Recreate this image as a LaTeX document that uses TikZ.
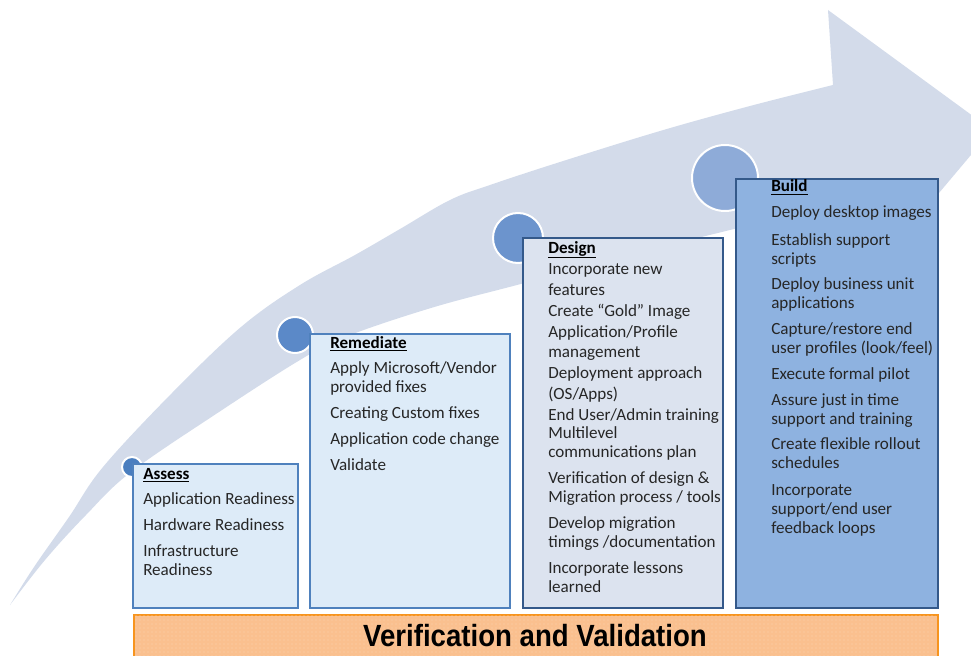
\documentclass[tikz,border=0pt]{standalone}
\usepackage{fontspec}
\setmainfont{Carlito}
\newfontfamily\barfont{Liberation Sans}
\usetikzlibrary{patterns}

\definecolor{arrowfill}{HTML}{D3DBEA}
\definecolor{dotA}{HTML}{4A7EBF}
\definecolor{dotB}{HTML}{5B89C8}
\definecolor{dotC}{HTML}{6C94CD}
\definecolor{dotD}{HTML}{8EABD8}
\definecolor{paleblue}{HTML}{DDEBF8}
\definecolor{paleedge}{HTML}{4F81BD}
\definecolor{greyblue}{HTML}{DCE3EF}
\definecolor{darkedge}{HTML}{34598A}
\definecolor{midblue}{HTML}{8EB2E0}
\definecolor{barfill}{HTML}{FAC08F}
\definecolor{baredge}{HTML}{F7941E}
\definecolor{bardots}{HTML}{FCD3AE}
\definecolor{bodytext}{HTML}{262626}

\tikzset{
  milestone/.style={circle, draw=white, line width=1.5pt, inner sep=0pt},
  phasebox/.style={rectangle, line width=1.6pt, anchor=north west, inner sep=0pt},
  lightbox/.style={phasebox, fill=paleblue, draw=paleedge},
  greybox/.style={phasebox, fill=greyblue, draw=darkedge},
  bluebox/.style={phasebox, fill=midblue, draw=darkedge},
  item/.style={anchor=base west, inner sep=0pt, text=bodytext,
    font=\fontsize{12.8}{14}\selectfont},
  heading/.style={item, text=black},
}

\begin{document}
\begin{tikzpicture}[x=0.75pt, y=-0.75pt]
\useasboundingbox (0,0) rectangle (971,656);
\clip (0,0) rectangle (971,656);

% sweeping arrow in the background
\fill[arrowfill]
  plot[smooth, tension=0.6] coordinates {(10,605) (34,567) (69,517) (103,467)
    (172,393) (241,327) (300,285) (355,255) (400,229) (450,200) (490,185)
    (560,162) (660,131) (750,106) (833,85)}
  -- (828,10) -- (992,130) -- (843,307) -- (838,205)
  -- plot[smooth, tension=0.6] coordinates {(838,205) (730,230) (620,258)
    (517,285) (431,308) (345,337) (300,360) (219,412) (131,472) (86,515)
    (45,560) (10,605)}
  -- cycle;

% milestones along the arrow
\node[milestone, fill=dotA, minimum size=15pt]   (m1) at (132,467) {};
\node[milestone, fill=dotB, minimum size=27pt]   (m2) at (295,335) {};
\node[milestone, fill=dotC, minimum size=37.5pt] (m3) at (518,238) {};
\node[milestone, fill=dotD, minimum size=49.5pt] (m4) at (725,178) {};

% phase boxes
\node[lightbox, minimum width=123.75pt, minimum height=108pt]  (assess)    at (132,463) {};
\node[lightbox, minimum width=150pt,    minimum height=205.5pt] (remediate) at (309,333) {};
\node[greybox,  minimum width=150pt,    minimum height=277.5pt] (design)    at (522,237) {};
\node[bluebox,  minimum width=151.5pt,  minimum height=321.75pt] (build)    at (735,178) {};

% Assess
\node[heading] (as-h) at (143,479) {\underline{\textbf{Assess}}};
\foreach \yy/\txt [count=\i] in {504/{Application Readiness}, 530/{Hardware Readiness},
    556/{Infrastructure}, 575/{Readiness}}
  \node[item] (as-\i) at (143,\yy) {\txt};

% Remediate
\node[heading] (re-h) at (330,348) {\underline{\textbf{Remediate}}};
\foreach \yy/\txt [count=\i] in {373/{Apply Microsoft/Vendor}, 392/{provided fixes},
    418/{Creating Custom fixes}, 444/{Application code change}, 470/{Validate}}
  \node[item] (re-\i) at (330,\yy) {\txt};

% Design
\node[heading] (de-h) at (548,253) {\underline{\textbf{Design}}};
\foreach \yy/\txt [count=\i] in {274/{Incorporate new}, 295/{features},
    316/{Create “Gold” Image}, 337/{Application/Profile}, 357/{management},
    378/{Deployment approach}, 399/{(OS/Apps)}, 420/{End User/Admin training},
    438/{Multilevel}, 457/{communications plan}, 483/{Verification of design \&},
    502/{Migration process / tools}, 528/{Develop migration},
    547/{timings /documentation}, 573/{Incorporate lessons}, 592/{learned}}
  \node[item] (de-\i) at (548,\yy) {\txt};

% Build
\node[heading] (bu-h) at (771,192) {\underline{\textbf{Build}}};
\foreach \yy/\txt [count=\i] in {218/{Deploy desktop images}, 245/{Establish support},
    264/{scripts}, 289/{Deploy business unit}, 308/{applications},
    334/{Capture/restore end}, 353/{user profiles (look/feel)},
    379/{Execute formal pilot}, 405/{Assure just in time}, 424/{support and training},
    449/{Create flexible rollout}, 468/{schedules}, 495/{Incorporate},
    514/{support/end user}, 533/{feedback loops}}
  \node[item] (bu-\i) at (771,\yy) {\txt};

% verification band along the bottom
\node[rectangle, anchor=north west, inner sep=0pt, minimum width=603pt, minimum height=40pt,
  fill=barfill, draw=baredge, line width=1.8pt] (vv) at (133,614) {};
\fill[pattern=dots, pattern color=bardots] (134.5,615.5) rectangle (935.5,670);
\node[inner sep=0pt, font=\barfont\bfseries\fontsize{23}{26}\selectfont] (vv-t) at (535,636)
  {\scalebox{0.9}[1]{Verification and Validation}};
\end{tikzpicture}
\end{document}
